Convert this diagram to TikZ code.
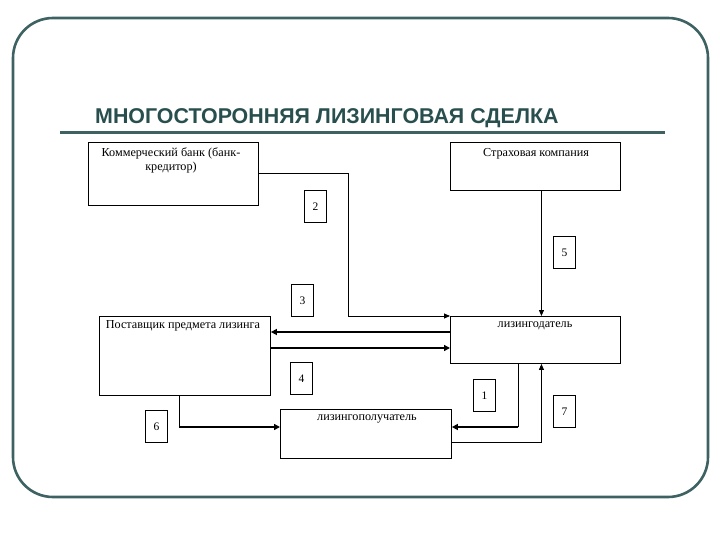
\documentclass[tikz,border=0pt]{standalone}
\usepackage{fontspec}
\setmainfont{Liberation Serif}
\newfontfamily\titlefont{Liberation Sans}
\usetikzlibrary{arrows.meta}
\definecolor{frame}{RGB}{62,98,98}
\definecolor{ttl}{RGB}{40,78,78}
\tikzset{
  boxst/.style={draw, line width=0.9pt, inner sep=0pt, anchor=north west},
  numbox/.style={draw, line width=0.9pt, inner sep=0pt, minimum width=22pt, minimum height=32pt, anchor=north west, font=\fontsize{11.5}{13}\selectfont},
  txt/.style={font=\fontsize{12.2}{14}\selectfont, inner sep=0pt, align=center, anchor=north},
  thinarr/.style={line width=0.9pt, -{Triangle[length=6pt,width=5pt]}},
  thinln/.style={line width=0.9pt},
  thickarr/.style={line width=2.4pt, -{Triangle[length=6pt,width=6pt]}},
}
\begin{document}
\begin{tikzpicture}[x=1pt,y=-1pt]
\useasboundingbox (0,0) rectangle (720,540);
% frame
\draw[frame, line width=2.6pt, rounded corners=40pt] (13,18) rectangle (708,497);
% title
\node[anchor=base west, inner sep=0pt, text=ttl, font=\titlefont\bfseries\fontsize{21.4}{24}\selectfont] (title) at (95,124) {МНОГОСТОРОННЯЯ ЛИЗИНГОВАЯ СДЕЛКА};
\draw[frame, line width=3pt] (60,133) -- (665,133);
% boxes
\node[boxst, minimum width=170pt, minimum height=63pt] (bank) at (88,142) {};
\node[txt] (banktxt) at (171,148) {Коммерческий банк (банк-\\кредитор)};
\node[boxst, minimum width=170pt, minimum height=48pt] (ins) at (450,142) {};
\node[txt] (instxt) at (536,148) {Страховая компания};
\node[boxst, minimum width=171pt, minimum height=79pt] (sup) at (99,316) {};
\node[txt] (suptxt) at (183,320) {Поставщик предмета лизинга};
\node[boxst, minimum width=170pt, minimum height=47pt] (lessor) at (450,316) {};
\node[txt] (lessortxt) at (535,322) {лизингодатель};
\node[boxst, minimum width=171pt, minimum height=49pt] (lessee) at (280,409) {};
\node[txt] (lesseetxt) at (367,415) {лизингополучатель};
% number boxes
\node[numbox] (n2) at (304,190) {2};
\node[numbox] (n5) at (553,236) {5};
\node[numbox] (n3) at (291,284) {3};
\node[numbox] (n4) at (290,362) {4};
\node[numbox] (n1) at (473,379) {1};
\node[numbox] (n7) at (553,395) {7};
\node[numbox] (n6) at (145,410) {6};
% connectors
\draw[thinarr] (bank.east) -- ++(90,0) |- (lessor.north west);
\draw[thinarr] ([xshift=6pt]ins.south) -- ([xshift=6pt]lessor.north);
\draw[thickarr] ([yshift=-16pt]lessor.north west) -- ([yshift=-16pt]sup.north east);
\draw[thickarr] ([yshift=-32pt]sup.north east) -- ([yshift=-32pt]lessor.north west);
\coordinate (c6) at ([xshift=-6pt]sup.south |- lessee.north);
\draw[thinln] ([xshift=-6pt]sup.south) -- ([yshift=-18pt]c6);
\draw[thickarr] ([yshift=-18pt]c6) -- ([yshift=-18pt]lessee.north west);
\coordinate (c1) at ([xshift=-17pt]lessor.south |- lessee.north);
\draw[thinln] ([xshift=-17pt]lessor.south) -- ([yshift=-18pt]c1);
\draw[thickarr] ([yshift=-18pt]c1) -- ([yshift=-18pt]lessee.north east);
\draw[thinarr] ([yshift=-33pt]lessee.north east) -| ([xshift=6pt]lessor.south);
\end{tikzpicture}
\end{document}
